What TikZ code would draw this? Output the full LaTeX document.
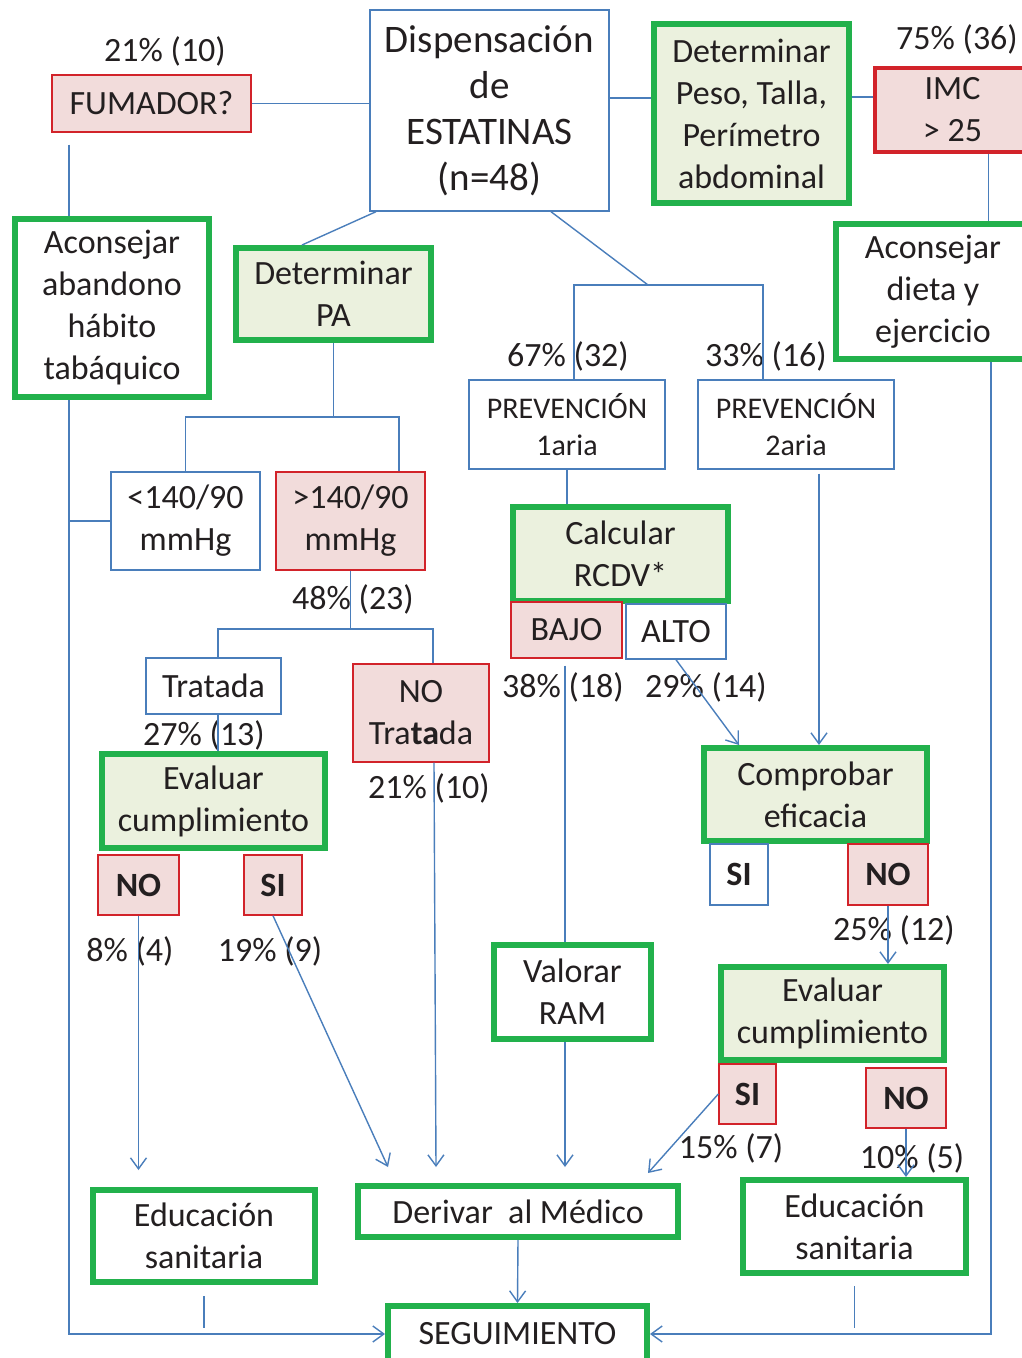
\documentclass[tikz,border=0pt]{standalone}
\usepackage{fontspec}
\setmainfont{Carlito}
\usetikzlibrary{arrows.meta}
\definecolor{lineblue}{HTML}{4A7EBB}
\definecolor{boxgreen}{HTML}{22B14C}
\definecolor{lightgreen}{HTML}{EBF1DE}
\definecolor{pinkfill}{HTML}{F2DCDB}
\definecolor{boxred}{HTML}{D2232A}
\definecolor{txtgray}{HTML}{231F20}
\newcommand{\bigtxt}{\fontsize{39}{46}\selectfont}
\newcommand{\medtxt}{\fontsize{34}{42}\selectfont}
\newcommand{\smtxt}{\fontsize{30}{37}\selectfont}
\tikzset{
  box/.style={draw, align=center, inner sep=0pt, text=txtgray, font=\medtxt},
  sz/.style 2 args={minimum width=#1pt, minimum height=#2pt},
  bluebox/.style={box, draw=lineblue, line width=1.4pt, fill=white},
  redbox/.style={box, draw=boxred, line width=1.4pt, fill=pinkfill},
  greenbox/.style={box, draw=boxgreen, line width=6pt, fill=white},
  greenfill/.style={greenbox, fill=lightgreen},
  pct/.style={text=txtgray, font=\medtxt, inner sep=0pt},
  conn/.style={draw=lineblue, line width=1.4pt},
  arr/.style={conn, -{Straight Barb[length=11pt,width=16pt]}},
}
\begin{document}
\begin{tikzpicture}[x=1pt,y=-1pt]
 \path[fill=white, use as bounding box] (0,0) rectangle (1022,1358);
 % boxes
 \node[bluebox, sz={239}{201}, font=\bigtxt] (disp) at (489.5,110.5) {Dispensación\\de\\ESTATINAS\\(n=48)};
 \node[redbox, sz={199}{57}] (fum) at (151.5,103.5) {FUMADOR?};
 \node[greenfill, sz={195}{179}] (peso) at (751.5,113.5) {Determinar\\Peso, Talla,\\Perímetro\\abdominal};
 \node[redbox, line width=4pt, sz={155}{84}] (imc) at (952.5,110) {IMC\\> 25};
 \node[greenbox, sz={194}{178}] (aband) at (112,308) {Aconsejar\\abandono\\hábito\\tabáquico};
 \node[greenfill, sz={195}{92}] (pa) at (333.5,294) {Determinar\\PA};
 \node[greenbox, sz={194}{135}] (dieta) at (933,291.5) {Aconsejar\\dieta y\\ejercicio};
 \node[bluebox, sz={196}{89}, font=\smtxt] (prev1) at (567,424.5) {PREVENCIÓN\\1aria};
 \node[bluebox, sz={196}{89}, font=\smtxt] (prev2) at (796,424.5) {PREVENCIÓN\\2aria};
 \node[bluebox, sz={149}{98}] (lo) at (185.5,521) {<140/90\\mmHg};
 \node[redbox, sz={149}{98}] (hi) at (350.5,521) {>140/90\\mmHg};
 \node[bluebox, sz={135}{56}] (trat) at (213.5,686) {Tratada};
 \node[redbox, sz={136}{98}] (notrat) at (421,713) {NO\\Tra\textbf{ta}da};
 \node[greenfill, sz={223}{94}] (evalL) at (213.5,801) {Evaluar\\cumplimiento};
 \node[redbox, sz={81}{60}, font=\medtxt\bfseries] (noL) at (138.5,885) {NO};
 \node[redbox, sz={58}{60}, font=\medtxt\bfseries] (siL) at (273,885) {SI};
 \node[greenfill, sz={215}{94}] (calc) at (620.5,554) {Calcular\\RCDV*};
 \node[redbox, sz={111}{56}] (bajo) at (566.5,630) {BAJO};
 \node[bluebox, sz={100}{55}] (alto) at (676,631.5) {ALTO};
 \node[greenfill, sz={223}{93}] (comp) at (815.5,794.5) {Comprobar\\eficacia};
 \node[bluebox, sz={58}{61}, font=\medtxt\bfseries] (siC) at (739,874.5) {SI};
 \node[redbox, sz={80}{61}, font=\medtxt\bfseries] (noC) at (888,874.5) {NO};
 \node[greenbox, sz={157}{94}] (ram) at (572.5,992) {Valorar\\RAM};
 \node[greenfill, sz={223}{93}] (evalR) at (832.5,1013.5) {Evaluar\\cumplimiento};
 \node[redbox, sz={57}{60}, font=\medtxt\bfseries] (siR) at (747.5,1094) {SI};
 \node[redbox, sz={80}{60}, font=\medtxt\bfseries] (noR) at (906,1098) {NO};
 \node[greenbox, sz={222}{92}] (eduL) at (204,1236) {Educación\\sanitaria};
 \node[greenbox, sz={320}{51}] (deriv) at (518,1211.5) {Derivar\ \ al Médico};
 \node[greenbox, sz={223}{93}] (eduR) at (854.5,1226.5) {Educación\\sanitaria};
 \node[greenbox, sz={259}{56}] (seg) at (517.5,1334) {SEGUIMIENTO};
 % percentages
 \foreach \n/\x/\y/\lbl in {pA/165/51/21\% (10), pB/957/39/75\% (36), pC/568/356/67\% (32),
   pD/766/356/33\% (16), pE/353/599/48\% (23), pF/204/735/27\% (13), pG/429/788/21\% (10),
   pH/563/687/38\% (18), pI/706/687/29\% (14), pJ/130/951/8\% (4), pK/270/951/19\% (9),
   pL/894/930/25\% (12), pM/731/1148/15\% (7), pN/912/1158/10\% (5)}
   \node[pct] (\n) at (\x,\y) {\lbl};
 % junctions
 \coordinate (dispJ) at (648,285);
 \coordinate (paJ) at (333.5,417);
 \coordinate (hiJ) at (350.5,629);
 \coordinate (dispE) at ([yshift=12.5pt]disp.east);
 \coordinate (imcW) at ([yshift=13pt]imc.west);
 \coordinate (fumS) at ([xshift=-82.5pt,yshift=-12pt]fum.south);
 \coordinate (imcS) at ([xshift=36pt]imc.south);
 \coordinate (dietaS) at ([xshift=58pt]dieta.south);
 \coordinate (tratS) at ([xshift=4.5pt]trat.south);
 \coordinate (bajoS) at ([xshift=-1.5pt,yshift=-7pt]bajo.south);
 \coordinate (prev2S) at ([xshift=23pt,yshift=-4pt]prev2.south);
 \coordinate (eduLtop) at ([yshift=17pt]eduL.north);
 \coordinate (dv1) at ([xshift=-130pt,yshift=16pt]deriv.north);
 \coordinate (dv2) at ([xshift=-82pt,yshift=16pt]deriv.north);
 \coordinate (dv3) at ([xshift=47pt,yshift=16pt]deriv.north);
 \coordinate (dv4) at ([xshift=130pt,yshift=10pt]deriv.north);
 % connectors
 \draw[conn] (fum.east) -- (fum.east -| disp.west);
 \draw[conn] (dispE) -- (dispE -| peso.west);
 \draw[conn] (imcW -| peso.east) -- (imcW);
 \draw[conn] (imcS) -- (imcS |- dieta.north);
 \draw[arr] (dietaS) |- (seg.east);
 \draw[conn] (fumS) -- (fumS |- aband.north);
 \draw[arr] (fumS |- aband.south) |- (seg.west);
 \draw[conn] (fumS |- lo.west) -- (lo.west);
 \draw[conn] ([xshift=-113.5pt]disp.south) -- ([xshift=-31.5pt]pa.north);
 \draw[conn] (pa.south) -- (paJ);
 \draw[conn] (lo.north) |- (paJ) -| ([xshift=48.5pt]hi.north);
 \draw[conn] (hi.south) -- (hiJ);
 \draw[conn] ([xshift=4.5pt]trat.north) |- (hiJ) -| ([xshift=12pt]notrat.north);
 \draw[conn] (tratS) -- (tratS |- evalL.north);
 \draw[arr] ([xshift=13pt]notrat.south) -- (dv2);
 \draw[arr] (noL.south) -- (noL.south |- eduLtop);
 \draw[arr] (siL.south) -- (dv1);
 \draw[conn] ([xshift=61.5pt]disp.south) -- (dispJ);
 \draw[conn] ([xshift=7pt]prev1.north) |- (dispJ) -| ([xshift=-33pt]prev2.north);
 \draw[conn] (prev1.south) -- (prev1.south |- calc.north);
 \draw[conn] (bajoS) -- (bajoS |- ram.north);
 \draw[arr] (dv3 |- ram.south) -- (dv3);
 \draw[arr] (alto.south) -- ([xshift=-76.5pt]comp.north);
 \draw[arr] (prev2S) -- (prev2S |- comp.north);
 \draw[arr] (noC.south) -- (noC.south |- evalR.north);
 \draw[arr] (siR.west) -- (dv4);
 \draw[arr] (noR.south) -- (noR.south |- eduR.north);
 \draw[arr] (deriv.south) -- (seg.north);
 \draw[conn] ([yshift=-11pt]eduL.south) -- ([yshift=-43pt]eduL.south);
 \draw[conn] ([yshift=-10pt]eduR.south) -- ([yshift=-52pt]eduR.south);
\end{tikzpicture}
\end{document}
